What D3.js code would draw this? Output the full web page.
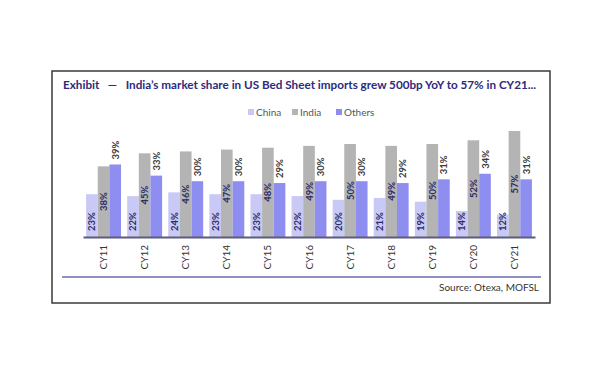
<!DOCTYPE html>
<html>
<head>
<meta charset="utf-8">
<script src="https://cdn.jsdelivr.net/npm/d3@7"></script>
<style>
  body { margin: 0; background: #fff; }
  svg { display: block; font-family: Lato, "Open Sans", sans-serif; }
</style>
</head>
<body>
<svg id="chart" width="600" height="376"></svg>
<script>
var years = ["CY11", "CY12", "CY13", "CY14", "CY15", "CY16", "CY17", "CY18", "CY19", "CY20", "CY21"];
var china = [23, 22, 24, 23, 23, 22, 20, 21, 19, 14, 12];
var india = [38, 45, 46, 47, 48, 49, 50, 49, 50, 52, 57];
var others = [39, 33, 30, 30, 29, 30, 30, 29, 31, 34, 31];
var seriesNames = ["China", "India", "Others"];
var seriesColors = ["#c9c9f6", "#b4b4b4", "#8e8ef0"];

var svg = d3.select("#chart");

// outer frame
svg.append("rect")
  .attr("x", 52).attr("y", 71)
  .attr("width", 498).attr("height", 232)
  .attr("fill", "none")
  .attr("stroke", "#3a3a3a")
  .attr("stroke-width", 1.5);

// title, squeezed to the width it has in the exhibit
var title = svg.append("text")
  .attr("x", 63).attr("y", 89)
  .attr("fill", "#2e2a7c")
  .attr("font-weight", "bold")
  .attr("font-size", 11.5)
  .style("white-space", "pre")
  .text("Exhibit   \u2014   India\u2019s market share in US Bed Sheet imports grew 500bp YoY to 57% in CY21...");
var tw = title.node().getComputedTextLength();
if (tw > 0) title.attr("font-size", 11.5 * 474 / tw);

// legend
var legendX = [248, 292, 336];
var legend = svg.append("g");
seriesNames.forEach(function (name, i) {
  legend.append("rect")
    .attr("x", legendX[i]).attr("y", 109)
    .attr("width", 6).attr("height", 6)
    .attr("fill", seriesColors[i]);
  legend.append("text")
    .attr("x", legendX[i] + 8).attr("y", 116)
    .attr("font-size", 10)
    .attr("fill", "#555")
    .text(name);
});

var baseY = 237;
var x0 = d3.scaleBand()
  .domain(years)
  .range([83, 535])
  .paddingInner(0.15)
  .paddingOuter(0.075);
var x1 = d3.scaleBand()
  .domain(seriesNames)
  .range([0, x0.bandwidth()]);
var y = d3.scaleLinear()
  .domain([0, 60])
  .range([baseY, baseY - 60 * 1.86]);

var rows = years.map(function (yr, i) {
  return { year: yr, values: [china[i], india[i], others[i]] };
});

var groups = svg.append("g").selectAll("g")
  .data(rows)
  .join("g")
  .attr("transform", function (d) { return "translate(" + x0(d.year) + ",0)"; });

groups.selectAll("rect")
  .data(function (d) { return d.values.map(function (v, j) { return { s: seriesNames[j], v: v, j: j }; }); })
  .join("rect")
  .attr("x", function (d) { return x1(d.s); })
  .attr("y", function (d) { return y(d.v); })
  .attr("width", x1.bandwidth())
  .attr("height", function (d) { return baseY - y(d.v); })
  .attr("fill", function (d) { return seriesColors[d.j]; });

// value labels: China at the base, India centred, Others above the bar
groups.selectAll("text")
  .data(function (d) { return d.values.map(function (v, j) { return { s: seriesNames[j], v: v, j: j }; }); })
  .join("text")
  .attr("transform", function (d) {
    var cx = x1(d.s) + x1.bandwidth() / 2 + 3.5;
    var cy;
    if (d.j == 0) cy = baseY - 6;
    else if (d.j == 1) cy = (y(d.v) + baseY) / 2;
    else cy = y(d.v) - 5;
    return "translate(" + cx + "," + cy + ") rotate(-90)";
  })
  .attr("text-anchor", function (d) { return d.j == 1 ? "middle" : "start"; })
  .attr("font-size", 9.5)
  .attr("font-weight", "bold")
  .attr("fill", function (d) { return d.j == 2 ? "#3a3a3a" : "#2c2c66"; })
  .text(function (d) { return d.v + "%"; });

// category axis
var xAxis = d3.axisBottom(x0).tickSize(0).tickPadding(0);
var axisG = svg.append("g")
  .attr("transform", "translate(0," + baseY + ")")
  .call(xAxis);
axisG.select(".domain")
  .attr("stroke", "#5c5c7c")
  .attr("stroke-width", 2);
axisG.selectAll(".tick text")
  .attr("transform", "translate(" + (x1("India") + x1.bandwidth() / 2 - x0.bandwidth() / 2 + 3.5) + ",8) rotate(-90)")
  .attr("text-anchor", "end")
  .attr("dy", 0)
  .attr("y", 0)
  .attr("font-size", 10)
  .attr("font-family", "Lato, 'Open Sans', sans-serif")
  .attr("fill", "#333");

// rule above the source line
svg.append("line")
  .attr("x1", 62).attr("x2", 541)
  .attr("y1", 277).attr("y2", 277)
  .attr("stroke", "#6b6bab")
  .attr("stroke-width", 1.5);

svg.append("text")
  .attr("x", 539).attr("y", 291)
  .attr("text-anchor", "end")
  .attr("font-size", 10)
  .attr("fill", "#333")
  .text("Source: Otexa, MOFSL");
</script>
</body>
</html>
